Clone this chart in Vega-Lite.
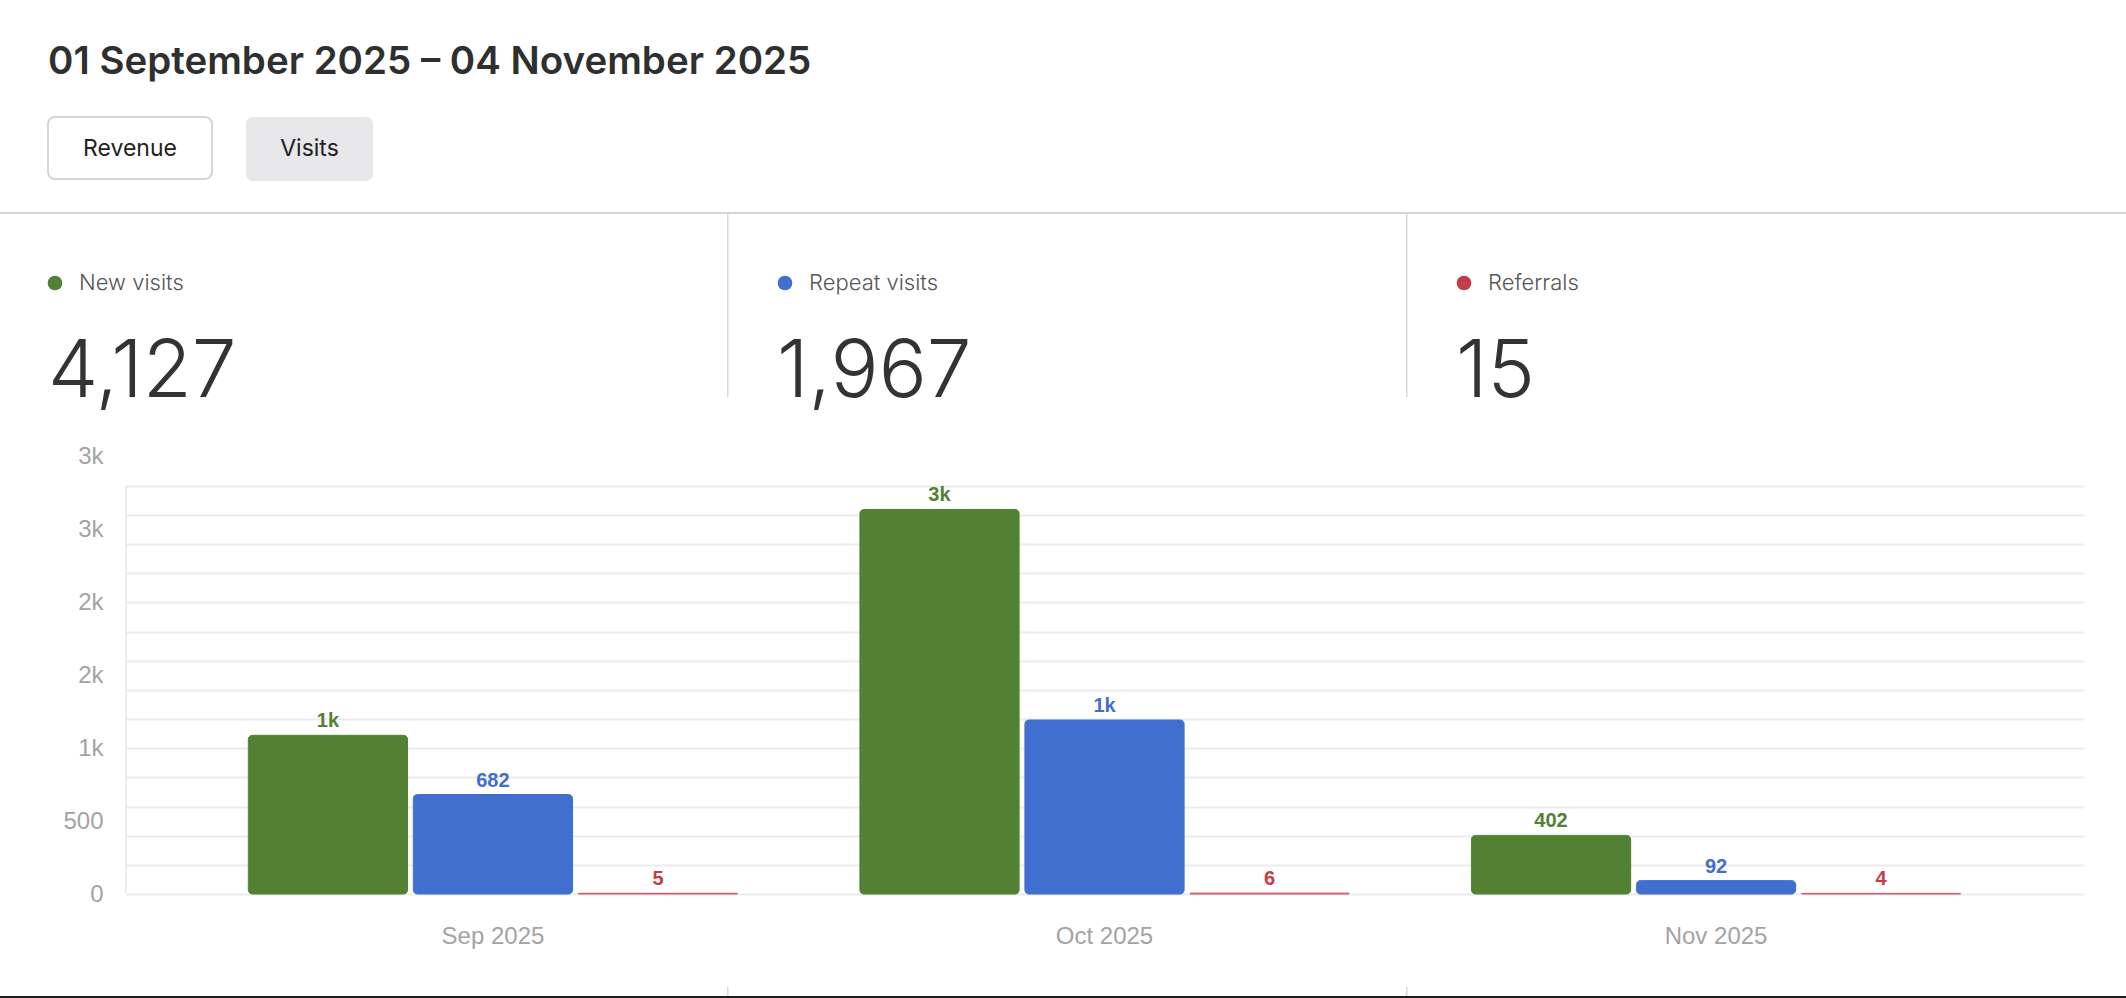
{
  "$schema": "https://vega.github.io/schema/vega-lite/v6.json",
  "padding": 0,
  "background": "#ffffff",
  "spacing": 0,
  "config": {
    "view": {"stroke": null},
    "concat": {"spacing": 0},
    "font": "Inter",
    "axis": {"domain": false, "ticks": false, "tickSize": 0, "labelFont": "Liberation Sans", "labelFontSize": 24, "labelColor": "#a3a3a3", "title": null},
    "axisX": {"labelPadding": 30, "labelAngle": 0, "grid": false},
    "axisY": {"labelPadding": 23}
  },
  "datasets": {
    "header": [{"range": "01 September 2025 – 04 November 2025"}],
    "buttons": [{"button": "Revenue", "active": false}, {"button": "Visits", "active": true}],
    "stats": [
      {"metric": "New visits", "total": 4127},
      {"metric": "Repeat visits", "total": 1967},
      {"metric": "Referrals", "total": 15}
    ],
    "visits": [
      {"month": "Sep 2025", "series": "New visits", "visits": 1088},
      {"month": "Sep 2025", "series": "Repeat visits", "visits": 682},
      {"month": "Sep 2025", "series": "Referrals", "visits": 5},
      {"month": "Oct 2025", "series": "New visits", "visits": 2637},
      {"month": "Oct 2025", "series": "Repeat visits", "visits": 1193},
      {"month": "Oct 2025", "series": "Referrals", "visits": 6},
      {"month": "Nov 2025", "series": "New visits", "visits": 402},
      {"month": "Nov 2025", "series": "Repeat visits", "visits": 92},
      {"month": "Nov 2025", "series": "Referrals", "visits": 4}
    ]
  },
  "vconcat": [
    {
      "width": 2126, "height": 116,
      "data": {"name": "header"},
      "mark": {"type": "text", "align": "left", "baseline": "alphabetic", "dx": 48, "dy": 16, "fontSize": 38.5, "fontWeight": 600, "color": "#2f2f2f"},
      "encoding": {
        "x": {"field": "range", "type": "nominal", "axis": null, "bandPosition": 0, "scale": {"type": "band", "paddingInner": 0, "paddingOuter": 0}},
        "text": {"field": "range"}
      }
    },
    {
      "hconcat": [
        {"width": 14, "height": 64, "data": {"values": [{}]}, "mark": {"type": "rect", "opacity": 0}, "encoding": {}},
        {
          "width": 164, "height": 62,
          "data": {"name": "buttons"},
          "transform": [{"filter": "datum.button === 'Revenue'"}],
          "view": {"fill": "#ffffff", "stroke": "#d6d6da", "strokeWidth": 2, "cornerRadius": 7},
          "mark": {"type": "text", "baseline": "alphabetic", "dy": 8, "fontSize": 23, "color": "#222222"},
          "encoding": {"text": {"field": "button"}}
        },
        {
          "width": 127, "height": 64,
          "data": {"name": "buttons"},
          "transform": [{"filter": "datum.button === 'Visits'"}],
          "view": {"fill": "#e8e8ea", "stroke": null, "cornerRadius": 7},
          "mark": {"type": "text", "baseline": "alphabetic", "dy": 7, "fontSize": 23, "color": "#222222"},
          "encoding": {"text": {"field": "button"}}
        }
      ],
      "spacing": 34,
      "bounds": "flush"
    },
    {"width": 2126, "height": 31, "data": {"values": [{}]}, "mark": {"type": "rect", "opacity": 0}, "encoding": {}},
    {"width": 2126, "height": 2, "data": {"values": [{}]}, "mark": {"type": "rect", "opacity": 0}, "encoding": {}, "view": {"fill": "#d5d5d9", "stroke": null}},
    {
      "hconcat": [
        {
          "width": 726.5, "height": 210,
          "data": {"name": "stats"},
          "transform": [{"filter": "datum.metric === 'New visits'"}],
          "encoding": {
            "x": {"field": "metric", "type": "nominal", "axis": null, "bandPosition": 0, "scale": {"type": "band", "paddingInner": 0, "paddingOuter": 0}},
            "color": {"field": "metric", "type": "nominal", "legend": null, "scale": {"domain": ["New visits", "Repeat visits", "Referrals"], "range": ["#528133", "#406fd0", "#c43c48"]}}
          },
          "layer": [
            {"mark": {"type": "point", "shape": "circle", "filled": true, "opacity": 1, "size": 215, "xOffset": 55, "yOffset": -36}},
            {"mark": {"type": "text", "align": "left", "baseline": "alphabetic", "dx": 79, "dy": -29, "fontSize": 22, "fontWeight": 300}, "encoding": {"text": {"field": "metric"}, "color": {"value": "#555555"}}},
            {"mark": {"type": "text", "align": "left", "baseline": "alphabetic", "dx": 48, "dy": 78, "fontSize": 80, "fontWeight": 300}, "encoding": {"text": {"field": "total", "type": "quantitative", "format": ","}, "color": {"value": "#333333"}}}
          ]
        },
        {"width": 1.5, "height": 183, "data": {"values": [{}]}, "mark": {"type": "rect", "opacity": 0}, "encoding": {}, "view": {"fill": "#d9d9dd", "stroke": null}},
        {
          "width": 676.5, "height": 210,
          "data": {"name": "stats"},
          "transform": [{"filter": "datum.metric === 'Repeat visits'"}],
          "encoding": {
            "x": {"field": "metric", "type": "nominal", "axis": null, "bandPosition": 0, "scale": {"type": "band", "paddingInner": 0, "paddingOuter": 0}},
            "color": {"field": "metric", "type": "nominal", "legend": null, "scale": {"domain": ["New visits", "Repeat visits", "Referrals"], "range": ["#528133", "#406fd0", "#c43c48"]}}
          },
          "layer": [
            {"mark": {"type": "point", "shape": "circle", "filled": true, "opacity": 1, "size": 215, "xOffset": 56, "yOffset": -36}},
            {"mark": {"type": "text", "align": "left", "baseline": "alphabetic", "dx": 80, "dy": -29, "fontSize": 22, "fontWeight": 300}, "encoding": {"text": {"field": "metric"}, "color": {"value": "#555555"}}},
            {"mark": {"type": "text", "align": "left", "baseline": "alphabetic", "dx": 48, "dy": 78, "fontSize": 80, "fontWeight": 300}, "encoding": {"text": {"field": "total", "type": "quantitative", "format": ","}, "color": {"value": "#333333"}}}
          ]
        },
        {"width": 1.5, "height": 183, "data": {"values": [{}]}, "mark": {"type": "rect", "opacity": 0}, "encoding": {}, "view": {"fill": "#d9d9dd", "stroke": null}},
        {
          "width": 720, "height": 210,
          "data": {"name": "stats"},
          "transform": [{"filter": "datum.metric === 'Referrals'"}],
          "encoding": {
            "x": {"field": "metric", "type": "nominal", "axis": null, "bandPosition": 0, "scale": {"type": "band", "paddingInner": 0, "paddingOuter": 0}},
            "color": {"field": "metric", "type": "nominal", "legend": null, "scale": {"domain": ["New visits", "Repeat visits", "Referrals"], "range": ["#528133", "#406fd0", "#c43c48"]}}
          },
          "layer": [
            {"mark": {"type": "point", "shape": "circle", "filled": true, "opacity": 1, "size": 215, "xOffset": 56, "yOffset": -36}},
            {"mark": {"type": "text", "align": "left", "baseline": "alphabetic", "dx": 80, "dy": -29, "fontSize": 22, "fontWeight": 300}, "encoding": {"text": {"field": "metric"}, "color": {"value": "#555555"}}},
            {"mark": {"type": "text", "align": "left", "baseline": "alphabetic", "dx": 48, "dy": 78, "fontSize": 80, "fontWeight": 300}, "encoding": {"text": {"field": "total", "type": "quantitative", "format": ","}, "color": {"value": "#333333"}}}
          ]
        }
      ],
      "spacing": 0,
      "bounds": "flush"
    },
    {
      "hconcat": [
        {"width": 126, "height": 470, "data": {"values": [{}]}, "mark": {"type": "rect", "opacity": 0}, "encoding": {}},
        {
          "width": 1957, "height": 470,
          "data": {"name": "visits"},
          "resolve": {"scale": {"x": "independent"}, "axis": {"x": "independent", "y": "independent"}},
          "layer": [
            {
              "data": {"values": [{}]},
              "mark": {"type": "rule", "color": "#ebebf0", "strokeWidth": 2},
              "encoding": {
                "x": {"datum": 0, "type": "quantitative", "scale": {"domain": [0, 1]}, "axis": null},
                "y": {"datum": 0, "type": "quantitative", "scale": {"domain": [0, 3223], "nice": false, "zero": true}, "axis": null},
                "y2": {"datum": 2800}
              }
            },
            {
              "mark": {"type": "bar", "cornerRadius": 4, "strokeWidth": 1},
              "encoding": {
                "x": {"field": "month", "type": "nominal", "sort": ["Sep 2025", "Oct 2025", "Nov 2025"], "scale": {"type": "band", "domain": ["Sep 2025", "Oct 2025", "Nov 2025"], "paddingInner": 0.2, "paddingOuter": 0.2}, "title": null},
                "xOffset": {"field": "series", "type": "nominal", "sort": ["New visits", "Repeat visits", "Referrals"], "scale": {"type": "band", "domain": ["New visits", "Repeat visits", "Referrals"], "paddingInner": 0.035, "paddingOuter": 0}},
                "y": {"field": "visits", "type": "quantitative", "scale": {"domain": [0, 3223], "nice": false, "zero": true}, "axis": {"orient": "left", "values": [0, 500, 1000, 1500, 2000, 2500, 3000], "format": ".1s", "grid": false}},
                "color": {"field": "series", "type": "nominal", "legend": null, "scale": {"domain": ["New visits", "Repeat visits", "Referrals"], "range": ["#528133", "#406fd0", "#c43c48"]}},
                "stroke": {"field": "series", "type": "nominal", "legend": null, "scale": {"domain": ["New visits", "Repeat visits", "Referrals"], "range": ["#528133", "#406fd0", "#d05a64"]}}
              }
            },
            {
              "transform": [{"filter": "datum.visits >= 1000"}],
              "mark": {"type": "text", "baseline": "alphabetic", "dy": -8, "font": "Liberation Sans", "fontSize": 20, "fontWeight": "bold"},
              "encoding": {
                "x": {"field": "month", "type": "nominal", "sort": ["Sep 2025", "Oct 2025", "Nov 2025"], "scale": {"type": "band", "domain": ["Sep 2025", "Oct 2025", "Nov 2025"], "paddingInner": 0.2, "paddingOuter": 0.2}, "axis": null},
                "xOffset": {"field": "series", "type": "nominal", "sort": ["New visits", "Repeat visits", "Referrals"], "scale": {"type": "band", "domain": ["New visits", "Repeat visits", "Referrals"], "paddingInner": 0.035, "paddingOuter": 0}},
                "y": {"field": "visits", "type": "quantitative", "scale": {"domain": [0, 3223], "nice": false, "zero": true}, "axis": {"orient": "left", "values": [0, 200, 400, 600, 800, 1000, 1200, 1400, 1600, 1800, 2000, 2200, 2400, 2600, 2800], "labels": false, "grid": true, "gridColor": "#ebebf0", "gridWidth": 2, "minExtent": 0, "maxExtent": 0}},
                "color": {"field": "series", "type": "nominal", "legend": null, "scale": {"domain": ["New visits", "Repeat visits", "Referrals"], "range": ["#528133", "#406fd0", "#c43c48"]}},
                "text": {"field": "visits", "type": "quantitative", "format": ".1s"}
              }
            },
            {
              "transform": [{"filter": "datum.visits < 1000"}],
              "mark": {"type": "text", "baseline": "alphabetic", "dy": -8, "font": "Liberation Sans", "fontSize": 20, "fontWeight": "bold"},
              "encoding": {
                "x": {"field": "month", "type": "nominal", "sort": ["Sep 2025", "Oct 2025", "Nov 2025"], "scale": {"type": "band", "domain": ["Sep 2025", "Oct 2025", "Nov 2025"], "paddingInner": 0.2, "paddingOuter": 0.2}, "axis": null},
                "xOffset": {"field": "series", "type": "nominal", "sort": ["New visits", "Repeat visits", "Referrals"], "scale": {"type": "band", "domain": ["New visits", "Repeat visits", "Referrals"], "paddingInner": 0.035, "paddingOuter": 0}},
                "y": {"field": "visits", "type": "quantitative", "scale": {"domain": [0, 3223], "nice": false, "zero": true}, "axis": null},
                "color": {"field": "series", "type": "nominal", "legend": null, "scale": {"domain": ["New visits", "Repeat visits", "Referrals"], "range": ["#528133", "#406fd0", "#c43c48"]}},
                "text": {"field": "visits", "type": "quantitative", "format": "d"}
              }
            }
          ]
        }
      ],
      "spacing": 0,
      "bounds": "flush"
    },
    {"width": 2126, "height": 39, "data": {"values": [{}]}, "mark": {"type": "rect", "opacity": 0}, "encoding": {}},
    {
      "hconcat": [
        {"width": 726.5, "height": 9, "data": {"values": [{}]}, "mark": {"type": "rect", "opacity": 0}, "encoding": {}},
        {"width": 1.5, "height": 9, "data": {"values": [{}]}, "mark": {"type": "rect", "opacity": 0}, "encoding": {}, "view": {"fill": "#d9d9dd", "stroke": null}},
        {"width": 676.5, "height": 9, "data": {"values": [{}]}, "mark": {"type": "rect", "opacity": 0}, "encoding": {}},
        {"width": 1.5, "height": 9, "data": {"values": [{}]}, "mark": {"type": "rect", "opacity": 0}, "encoding": {}, "view": {"fill": "#d9d9dd", "stroke": null}},
        {"width": 720, "height": 9, "data": {"values": [{}]}, "mark": {"type": "rect", "opacity": 0}, "encoding": {}}
      ],
      "spacing": 0,
      "bounds": "flush"
    },
    {"width": 2126, "height": 2, "data": {"values": [{}]}, "mark": {"type": "rect", "opacity": 0}, "encoding": {}, "view": {"fill": "#1e1e1e", "stroke": null}}
  ]
}
